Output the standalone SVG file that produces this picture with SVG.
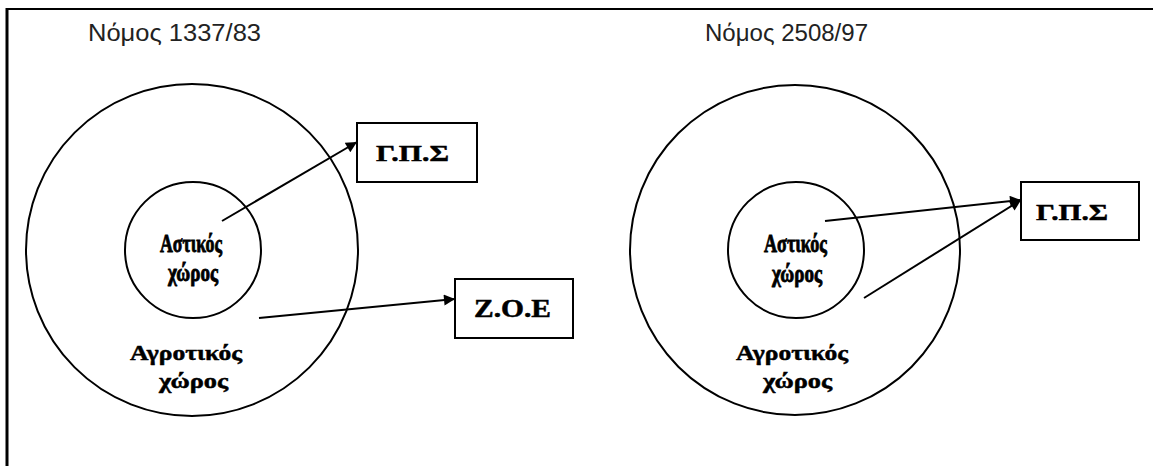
<svg xmlns="http://www.w3.org/2000/svg" width="1153" height="466" viewBox="0 0 1153 466">
<style>
.title{font-family:"Liberation Sans",Arial,sans-serif;font-size:23px;fill:#222}
.lbl{font-family:"Liberation Serif","Times New Roman",serif;font-weight:bold;fill:#000}
.heavy{stroke:#000;stroke-width:0.9}
.mid{stroke:#000;stroke-width:0.5}
.circ{fill:none;stroke:#000;stroke-width:2}
.box{fill:#fff;stroke:#000;stroke-width:2}
.conn{stroke:#000;stroke-width:2;fill:none;marker-end:url(#ah)}
</style>
<defs>
<marker id="ah" viewBox="0 0 10 10" refX="10" refY="5" markerWidth="16" markerHeight="11" markerUnits="userSpaceOnUse" orient="auto">
<path d="M0,0 L10,5 L0,10 z" fill="#000"/>
</marker>
</defs>
<rect width="1153" height="466" fill="#fff"/>
<g id="frame">
<line x1="6" y1="9" x2="1153" y2="9" stroke="#000" stroke-width="2"/>
<line x1="7" y1="8" x2="7" y2="466" stroke="#000" stroke-width="3"/>
</g>
<g id="title-left"><text class="title" x="88" y="41" textLength="173" lengthAdjust="spacingAndGlyphs">Νόμος 1337/83</text></g>
<g id="title-right"><text class="title" x="705" y="41" textLength="163" lengthAdjust="spacingAndGlyphs">Νόμος 2508/97</text></g>

<g id="rural-left">
<circle class="circ" cx="192" cy="250" r="166"/>
<text class="lbl mid" x="130" y="360" font-size="22" textLength="112" lengthAdjust="spacingAndGlyphs">Αγροτικός</text>
<text class="lbl mid" x="159" y="388" font-size="22" textLength="69" lengthAdjust="spacingAndGlyphs">χώρος</text>
</g>
<g id="urban-left">
<circle class="circ" cx="193" cy="250" r="68"/>
<text class="lbl heavy" x="160" y="252" font-size="26" textLength="62" lengthAdjust="spacingAndGlyphs">Αστικός</text>
<text class="lbl heavy" x="168" y="281" font-size="26" textLength="50" lengthAdjust="spacingAndGlyphs">χώρος</text>
</g>
<g id="gps-left">
<rect class="box" x="357" y="123" width="120" height="59"/>
<text class="lbl mid" x="376" y="161" font-size="23" textLength="73" lengthAdjust="spacingAndGlyphs">Γ.Π.Σ</text>
</g>
<g id="zoe-left">
<rect class="box" x="455" y="279" width="118" height="59"/>
<text class="lbl mid" x="474" y="317" font-size="25" textLength="77" lengthAdjust="spacingAndGlyphs">Ζ.Ο.Ε</text>
</g>

<g id="rural-right">
<circle class="circ" cx="795" cy="250" r="165"/>
<text class="lbl mid" x="736" y="360" font-size="22" textLength="112" lengthAdjust="spacingAndGlyphs">Αγροτικός</text>
<text class="lbl mid" x="763" y="388" font-size="22" textLength="69" lengthAdjust="spacingAndGlyphs">χώρος</text>
</g>
<g id="urban-right">
<circle class="circ" cx="796" cy="250" r="68"/>
<text class="lbl heavy" x="764" y="252" font-size="26" textLength="63" lengthAdjust="spacingAndGlyphs">Αστικός</text>
<text class="lbl heavy" x="772" y="282" font-size="26" textLength="50" lengthAdjust="spacingAndGlyphs">χώρος</text>
</g>
<g id="gps-right">
<rect class="box" x="1021" y="182" width="118" height="58"/>
<text class="lbl mid" x="1036" y="220" font-size="23" textLength="72" lengthAdjust="spacingAndGlyphs">Γ.Π.Σ</text>
</g>

<g id="connectors">
<line class="conn" x1="222" y1="221" x2="357" y2="142"/>
<line class="conn" x1="259" y1="318" x2="455" y2="299"/>
<line class="conn" x1="825" y1="221" x2="1021" y2="200"/>
<line class="conn" x1="864" y1="298" x2="1021" y2="200"/>
</g>
</svg>
